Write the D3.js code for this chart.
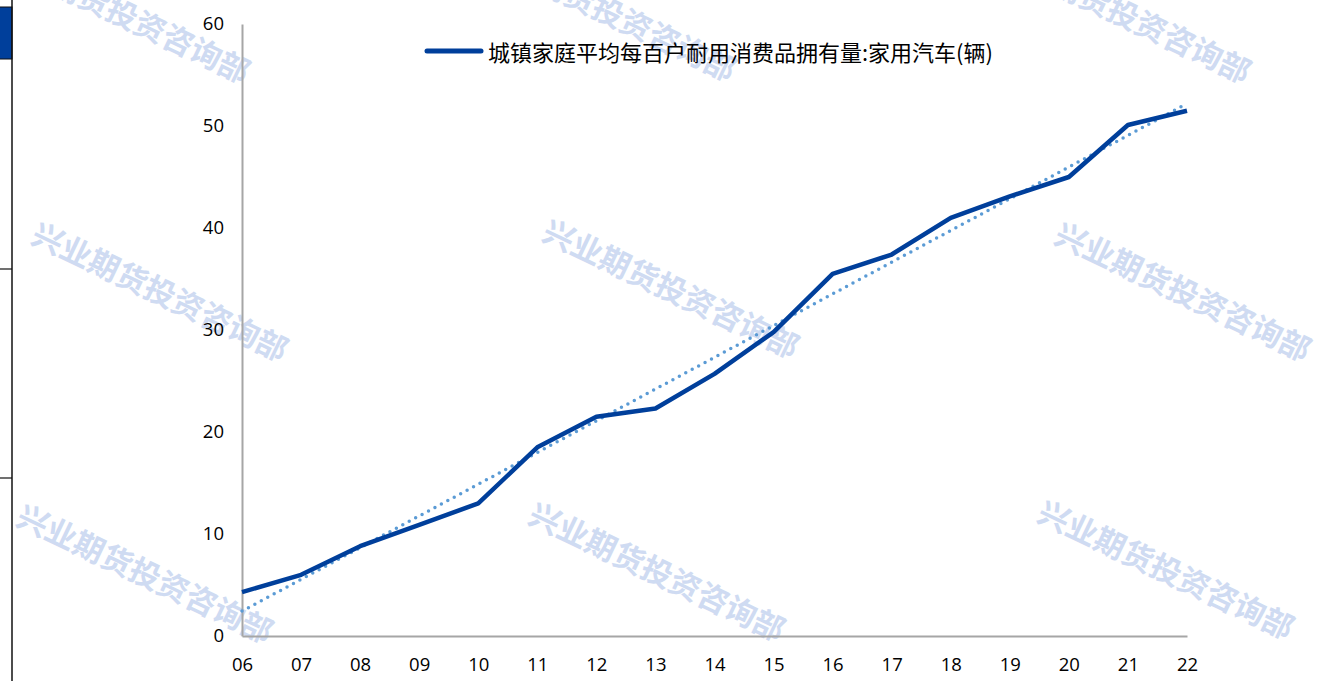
<!DOCTYPE html>
<html>
<head>
<meta charset="utf-8">
<script src="https://cdn.jsdelivr.net/npm/d3@7"></script>
<style>
  body { margin: 0; background: #fff; }
  svg { display: block; }
</style>
</head>
<body>
<div id="chart"></div>
<script>
// Data
const years = ["06", "07", "08", "09", "10", "11", "12", "13", "14", "15", "16", "17", "18", "19", "20", "21", "22"];
const carsPer100 = [4.3, 6.0, 8.8, 10.9, 13.0, 18.5, 21.5, 22.3, 25.7, 29.8, 35.5, 37.4, 41.0, 43.1, 45.0, 50.1, 51.5];
const yTicks = [0, 10, 20, 30, 40, 50, 60];
const seriesName = "城镇家庭平均每百户耐用消费品拥有量:家用汽车(辆)";
const watermarkText = "兴业期货投资咨询部";

const width = 1329, height = 681;
const margin = { top: 24, right: 142, bottom: 45, left: 242 };

const svg = d3.select("#chart").append("svg").attr("width", width).attr("height", height);

// Left frame decoration
svg.append("rect").attr("x", -1).attr("y", 7).attr("width", 13).attr("height", 52)
    .attr("fill", "#003f9b").attr("stroke", "#111").attr("stroke-width", 1);
svg.append("line").attr("x1", 12).attr("x2", 12).attr("y1", 0).attr("y2", height)
    .attr("stroke", "#111").attr("stroke-width", 1.5);
[269, 478].forEach(yy => {
    svg.append("line").attr("x1", 0).attr("x2", 12).attr("y1", yy).attr("y2", yy)
        .attr("stroke", "#111").attr("stroke-width", 1.2);
});

// Scales
const x = d3.scalePoint().domain(years).range([margin.left, width - margin.right]);
const y = d3.scaleLinear().domain([0, 60]).range([height - margin.bottom, margin.top]);

// Watermarks (the top row runs off the top edge, as in the source)
const marks = [[123, 12], [609, 10], [1124, 12], [161, 290], [672, 287], [1184, 290], [146, 572], [658, 570], [1167, 568]];
marks.forEach(([cx, cy]) => {
    svg.append("text")
        .attr("transform", `translate(${cx},${cy}) rotate(25.5)`)
        .attr("text-anchor", "middle").attr("dominant-baseline", "central")
        .attr("font-family", "Noto Sans CJK SC").attr("font-weight", "bold")
        .attr("font-size", 31).attr("fill", "#cfdbf2")
        .text(watermarkText);
});

// Axes
const yAxis = svg.append("g").attr("transform", `translate(${margin.left},0)`)
    .call(d3.axisLeft(y).tickValues(yTicks).tickSize(0).tickPadding(18));
const xAxis = svg.append("g").attr("transform", `translate(0,${height - margin.bottom})`)
    .call(d3.axisBottom(x).tickSize(0).tickPadding(22));
[yAxis, xAxis].forEach(g => {
    g.select(".domain").attr("stroke", "#a6a6a6").attr("stroke-width", 2);
    g.selectAll("text").attr("font-family", "Open Sans").attr("font-size", 18.5).attr("fill", "#000");
});

// Linear trend line (least squares over the series)
const idx = carsPer100.map((_, i) => i);
const mx = d3.mean(idx), my = d3.mean(carsPer100);
const slope = d3.sum(idx, i => (i - mx) * (carsPer100[i] - my)) / d3.sum(idx, i => (i - mx) ** 2);
const trend = [0, years.length - 1].map(i => ({ k: years[i], v: my + slope * (i - mx) }));

svg.append("path")
    .datum(trend)
    .attr("fill", "none")
    .attr("stroke", "#5b9bd5")
    .attr("stroke-width", 3.5)
    .attr("stroke-linecap", "round")
    .attr("stroke-dasharray", "0 7.3")
    .attr("d", d3.line().x(d => x(d.k)).y(d => y(d.v)));

// Main line
svg.append("path")
    .datum(carsPer100)
    .attr("fill", "none")
    .attr("stroke", "#003f9b")
    .attr("stroke-width", 4.5)
    .attr("stroke-linejoin", "round")
    .attr("d", d3.line().x((d, i) => x(years[i])).y(d => y(d)));

// Legend
svg.append("line").attr("x1", 427).attr("x2", 481).attr("y1", 51).attr("y2", 51)
    .attr("stroke", "#003f9b").attr("stroke-width", 5).attr("stroke-linecap", "round");
svg.append("text").attr("x", 488).attr("y", 51).attr("dominant-baseline", "central")
    .attr("font-family", "Noto Sans CJK SC").attr("font-size", 22).attr("fill", "#000")
    .text(seriesName);
</script>
</body>
</html>
